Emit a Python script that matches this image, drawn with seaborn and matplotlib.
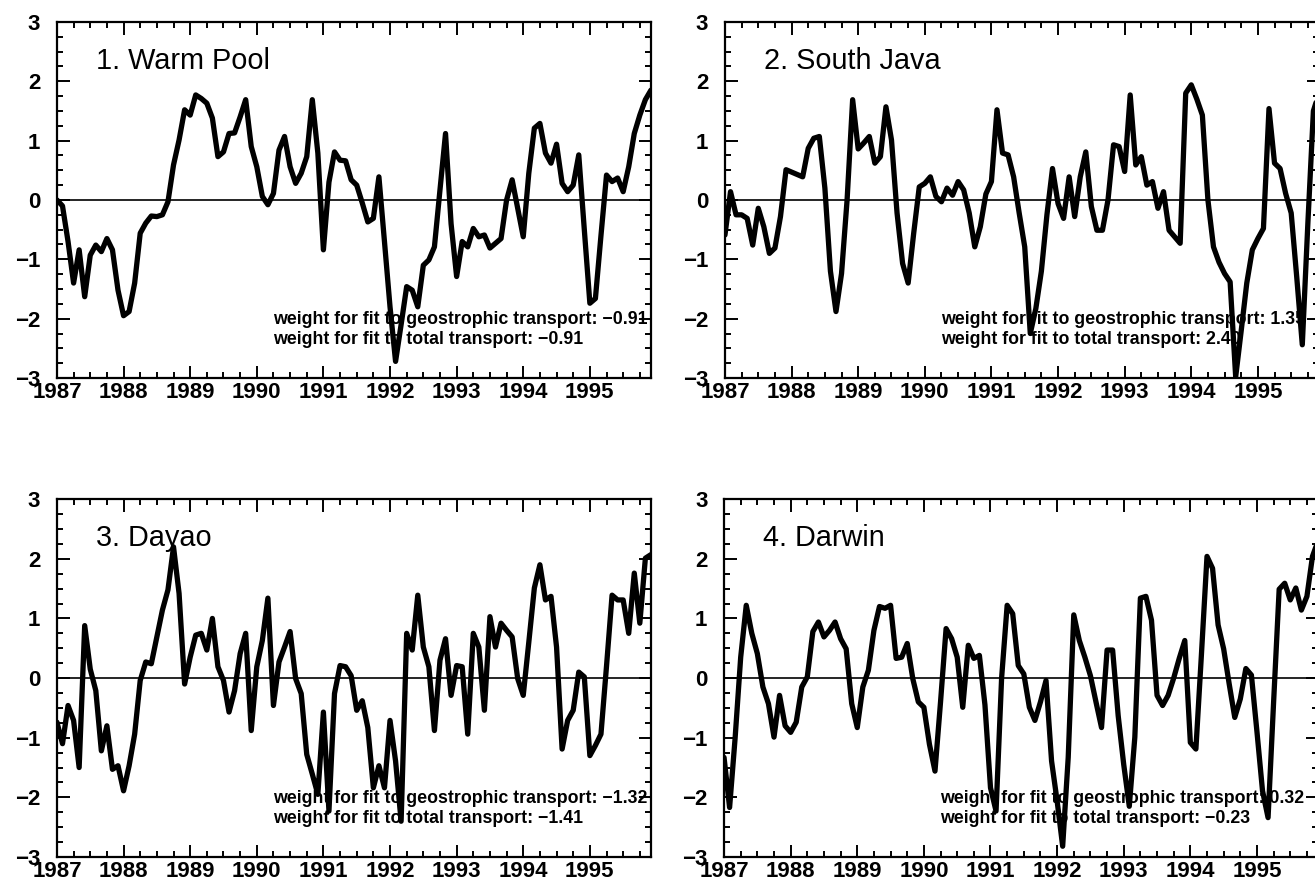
import numpy as np
import pandas as pd
import seaborn as sns
import matplotlib.pyplot as plt
from matplotlib.ticker import FixedLocator, MultipleLocator

# monthly values, Jan 1987 - Dec 1995
warm_pool = [
    0.0, -0.1, -0.7, -1.4, -0.84, -1.63, -0.93, -0.76, -0.87, -0.65,
    -0.84, -1.52, -1.95, -1.88, -1.4, -0.56, -0.39, -0.27, -0.28, -0.25,
    -0.03, 0.59, 1.01, 1.52, 1.43, 1.77, 1.71, 1.63, 1.38, 0.73,
    0.81, 1.12, 1.13, 1.4, 1.69, 0.9, 0.56, 0.06, -0.08, 0.11,
    0.84, 1.07, 0.56, 0.28, 0.45, 0.73, 1.69, 0.79, -0.84, 0.3,
    0.81, 0.67, 0.66, 0.34, 0.25, -0.05, -0.37, -0.31, 0.39, -0.7,
    -1.8, -2.72, -2.1, -1.46, -1.52, -1.8, -1.1, -1.01, -0.79, 0.17,
    1.12, -0.4, -1.29, -0.7, -0.79, -0.48, -0.62, -0.59, -0.81, -0.73,
    -0.65, 0.0, 0.34, -0.14, -0.62, 0.45, 1.21, 1.29, 0.79, 0.62,
    0.94, 0.28, 0.14, 0.25, 0.76, -0.5, -1.74, -1.66, -0.6, 0.42,
    0.31, 0.37, 0.14, 0.56, 1.12, 1.43, 1.69, 1.85,
]
south_java = [
    -0.59, 0.14, -0.25, -0.25, -0.31, -0.76, -0.14, -0.45, -0.9, -0.81,
    -0.28, 0.51, 0.47, 0.43, 0.39, 0.87, 1.04, 1.07, 0.2, -1.2,
    -1.88, -1.24, 0.0, 1.69, 0.86, 0.96, 1.07, 0.62, 0.73, 1.57,
    1.01, -0.22, -1.07, -1.4, -0.56, 0.22, 0.28, 0.39, 0.06, -0.03,
    0.2, 0.08, 0.31, 0.17, -0.22, -0.79, -0.45, 0.1, 0.31, 1.52,
    0.79, 0.76, 0.39, -0.22, -0.79, -2.25, -1.83, -1.2, -0.25, 0.53,
    -0.06, -0.31, 0.39, -0.28, 0.39, 0.81, -0.11, -0.51, -0.51, 0.0,
    0.93, 0.9, 0.48, 1.77, 0.59, 0.73, 0.25, 0.31, -0.14, 0.14,
    -0.51, -0.62, -0.73, 1.8, 1.94, 1.7, 1.43, 0.0, -0.79, -1.05,
    -1.24, -1.38, -2.98, -2.2, -1.4, -0.84, -0.65, -0.48, 1.54, 0.62,
    0.53, 0.11, -0.22, -1.3, -2.44, -0.4, 1.5, 1.8,
]
davao = [
    -0.74, -1.1, -0.46, -0.71, -1.5, 0.88, 0.15, -0.21, -1.22, -0.8,
    -1.53, -1.47, -1.89, -1.47, -0.94, -0.04, 0.27, 0.24, 0.69, 1.14,
    1.48, 2.2, 1.42, -0.1, 0.35, 0.72, 0.75, 0.47, 1.0, 0.19,
    -0.04, -0.57, -0.21, 0.41, 0.75, -0.88, 0.19, 0.63, 1.34, -0.46,
    0.27, 0.52, 0.78, -0.01, -0.26, -1.28, -1.61, -1.95, -0.57, -2.23,
    -0.26, 0.21, 0.19, 0.04, -0.54, -0.38, -0.83, -1.84, -1.47, -1.84,
    -0.71, -1.39, -2.4, 0.75, 0.47, 1.39, 0.52, 0.19, -0.88, 0.3,
    0.66, -0.29, 0.21, 0.19, -0.94, 0.75, 0.52, -0.54, 1.03, 0.52,
    0.92, 0.8, 0.69, -0.01, -0.29, 0.6, 1.51, 1.9, 1.31, 1.37,
    0.52, -1.19, -0.71, -0.54, 0.1, 0.02, -1.3, -1.13, -0.94, 0.2,
    1.39, 1.31, 1.31, 0.75, 1.76, 0.92, 2.01, 2.07,
]
darwin = [
    -1.33, -2.17, -1.0, 0.35, 1.22, 0.75, 0.41, -0.15, -0.43, -0.99,
    -0.29, -0.8, -0.91, -0.74, -0.15, 0.02, 0.78, 0.94, 0.69, 0.8,
    0.94, 0.66, 0.49, -0.43, -0.83, -0.15, 0.13, 0.8, 1.2, 1.17,
    1.22, 0.33, 0.35, 0.58, -0.01, -0.4, -0.49, -1.11, -1.56, -0.4,
    0.83, 0.66, 0.35, -0.49, 0.55, 0.33, 0.38, -0.45, -1.84, -2.23,
    0.0, 1.22, 1.08, 0.21, 0.07, -0.49, -0.71, -0.4, -0.04, -1.39,
    -2.06, -2.82, -1.33, 1.06, 0.63, 0.35, 0.04, -0.4, -0.83, 0.47,
    0.47, -0.63, -1.45, -2.15, -0.99, 1.34, 1.37, 0.97, -0.29, -0.46,
    -0.29, 0.0, 0.33, 0.63, -1.08, -1.19, 0.4, 2.04, 1.84, 0.89,
    0.49, -0.1, -0.66, -0.35, 0.16, 0.05, -0.9, -1.89, -2.34, -0.4,
    1.49, 1.59, 1.31, 1.51, 1.14, 1.37, 2.04, 2.3,
]

panel_names = ["1. Warm Pool", "2. South Java", "3. Dayao", "4. Darwin"]
geo_weights = ["\u22120.91", "1.35", "\u22121.32", "0.32"]
total_weights = ["\u22120.91", "2.40", "\u22121.41", "\u22120.23"]
year_ticks = list(range(1987, 1996))

series = [warm_pool, south_java, davao, darwin]
months = 1987 + np.arange(len(warm_pool)) / 12.0

df = pd.DataFrame({
    "time": np.tile(months, 4),
    "value": np.concatenate(series),
    "station": np.repeat(panel_names, len(months)),
})

sns.set_style("ticks")
plt.rcParams["font.family"] = ["Liberation Sans", "DejaVu Sans"]
plt.rcParams["text.color"] = "black"
plt.rcParams["xtick.color"] = "black"
plt.rcParams["ytick.color"] = "black"
plt.rcParams["axes.edgecolor"] = "black"

fig = plt.figure(figsize=(13.15, 8.88), dpi=100)

# axes rectangles in figure fractions
w, h = 0.4517, 0.401
rects = [
    [0.0433, 0.5743, w, h],
    [0.5513, 0.5743, w, h],
    [0.0433, 0.0349, w, 0.403],
    [0.5506, 0.0349, w, 0.403],
]

for name, geo, tot, rect in zip(panel_names, geo_weights, total_weights, rects):
    ax = fig.add_axes(rect)
    sub = df[df["station"] == name]
    sns.lineplot(data=sub, x="time", y="value", color="black",
                 linewidth=3.8, ax=ax, zorder=3, errorbar=None)
    ax.axhline(0, color="black", linewidth=1.2, zorder=2)

    ax.set_xlim(months[0], months[-1])
    ax.set_ylim(-3, 3)
    ax.xaxis.set_major_locator(FixedLocator(year_ticks))
    ax.xaxis.set_minor_locator(MultipleLocator(0.25))
    ax.yaxis.set_major_locator(MultipleLocator(1))
    ax.yaxis.set_minor_locator(MultipleLocator(0.25))
    ax.tick_params(which="both", direction="in", top=True, right=True,
                   width=1.4, color="black", labelcolor="black")
    ax.tick_params(which="major", length=9)
    ax.tick_params(which="minor", length=4.5)
    ax.tick_params(axis="x", which="major", pad=3, labelsize=16)
    ax.tick_params(axis="y", which="major", pad=12, labelsize=16)
    for lbl in ax.get_xticklabels() + ax.get_yticklabels():
        lbl.set_fontweight("bold")
    ax.set_xlabel("")
    ax.set_ylabel("")
    for sp in ax.spines.values():
        sp.set_linewidth(1.6)
        sp.set_color("black")

    ax.text(0.065, 0.868, name, transform=ax.transAxes, fontsize=20.8,
            va="baseline", ha="left", zorder=1, color="black")
    ax.text(0.363, 0.164, f"weight for fit to geostrophic transport: {geo}",
            transform=ax.transAxes, fontsize=12.8, fontweight="bold",
            va="center", ha="left", zorder=1, color="black")
    ax.text(0.363, 0.108, f"weight for fit to total transport: {tot}",
            transform=ax.transAxes, fontsize=12.8, fontweight="bold",
            va="center", ha="left", zorder=1, color="black")

fig.savefig("out.png", dpi=100)
